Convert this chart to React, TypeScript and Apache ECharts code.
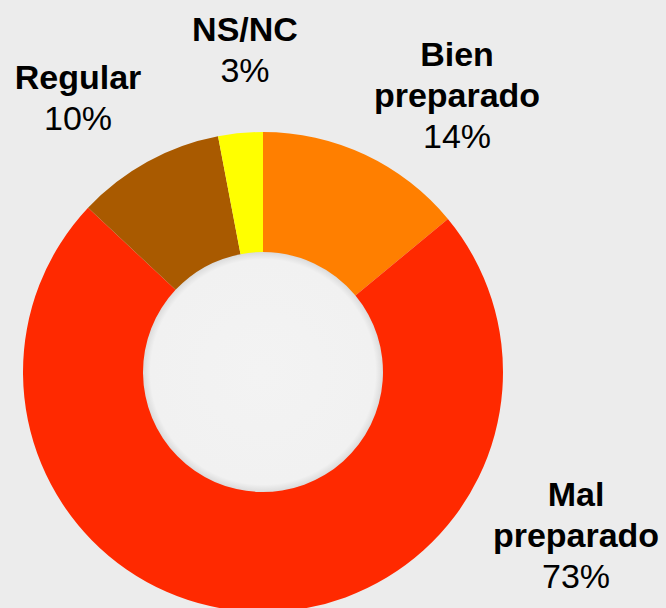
import React, { useEffect, useRef } from "react";
import * as echarts from "echarts";

const categories = ["Bien preparado", "Mal preparado", "Regular", "NS/NC"];
const values = [14, 73, 10, 3];
const colors = ["#FF7F00", "#FF2900", "#A95A00", "#FFFF00"];
// label anchor positions (center x, top y) per slice
const labelPos = [
  [457, 33],
  [576, 473],
  [78, 56],
  [245, 8],
];

export default function App() {
  const ref = useRef<HTMLDivElement>(null);
  useEffect(() => {
    document.body.style.margin = "0";
    const chart = echarts.init(ref.current!, null, { renderer: "svg" });
    chart.setOption({
      animation: false,
      backgroundColor: "#ececec",
      graphic: [
        {
          type: "circle",
          z: -10,
          shape: { cx: 263, cy: 372, r: 121 },
          style: {
            fill: {
              type: "radial",
              x: 0.5,
              y: 0.5,
              r: 0.5,
              colorStops: [
                { offset: 0, color: "#f3f3f3" },
                { offset: 0.93, color: "#f1f1f1" },
                { offset: 1, color: "#d8d8d8" },
              ],
            },
          },
        },
      ],
      series: [
        {
          type: "pie",
          center: [263, 372],
          radius: [120, 240],
          startAngle: 90,
          clockwise: true,
          silent: true,
          data: categories.map((c, i) => ({
            name: c,
            value: values[i],
            itemStyle: { color: colors[i] },
          })),
          labelLine: { show: false },
          label: {
            show: true,
            position: "outside",
            overflow: "none",
            width: 300,
            formatter: (p: any) =>
              `{n|${p.name.replace(" ", "\n")}}\n{p|${p.value}%}`,
            rich: {
              n: {
                fontFamily: "Liberation Sans, Arial, sans-serif",
                fontWeight: "bold",
                fontSize: 34,
                lineHeight: 41,
                color: "#000",
                align: "center",
              },
              p: {
                fontFamily: "Liberation Sans, Arial, sans-serif",
                fontWeight: "normal",
                fontSize: 34,
                lineHeight: 42,
                color: "#000",
                align: "center",
              },
            },
          },
          labelLayout: (params: any) => {
            const pos = labelPos[params.dataIndex];
            return {
              x: pos[0],
              y: pos[1],
              align: "center",
              verticalAlign: "top",
            };
          },
        },
      ],
    });
    return () => chart.dispose();
  }, []);
  return <div ref={ref} style={{ width: 666, height: 608 }} />;
}
